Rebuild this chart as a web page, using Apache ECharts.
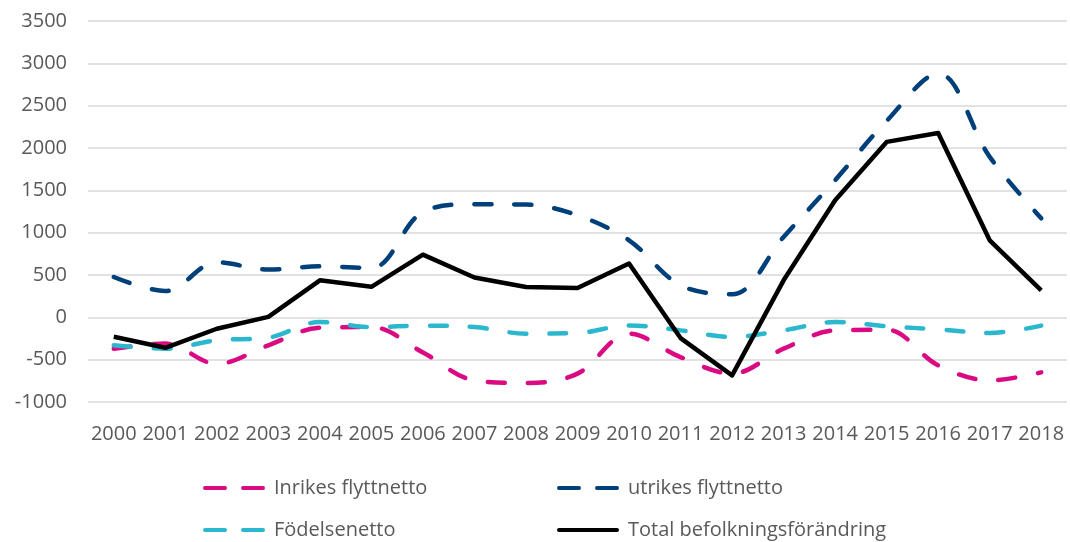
<!DOCTYPE html>
<html>
<head>
<meta charset="utf-8">
<script src="https://cdn.jsdelivr.net/npm/echarts@6/dist/echarts.min.js"></script>
<style>
  html, body { margin: 0; padding: 0; background: #fff; }
  #chart { width: 1070px; height: 542px; }
</style>
</head>
<body>
<div id="chart"></div>
<script>
const years = ["2000", "2001", "2002", "2003", "2004", "2005", "2006", "2007", "2008", "2009",
  "2010", "2011", "2012", "2013", "2014", "2015", "2016", "2017", "2018"];

const inrikes = [-370, -310, -550, -330, -122, -115, -415, -745, -776, -665,
  -193, -470, -665, -370, -154, -146, -567, -745, -650];
const utrikes = [476, 310, 650, 564, 603, 583, 1245, 1336, 1332, 1205,
  910, 378, 272, 950, 1620, 2320, 2880, 1895, 1170];
const fodelse = [-330, -370, -270, -240, -55, -115, -98, -115, -193, -185,
  -95, -154, -232, -154, -55, -106, -142, -185, -98];
const total = [-230, -360, -135, 5, 437, 360, 740, 470, 358, 347,
  635, -245, -685, 437, 1383, 2072, 2178, 910, 319];

const font = "'Open Sans', 'Liberation Sans', sans-serif";
const textColor = "#595959";

// legend icons: two rounded dashes, or one solid bar
const dashIcon = "path://M2,0H22A2,2 0 0 1 22,4H2A2,2 0 0 1 2,0Z M40,0H60A2,2 0 0 1 60,4H40A2,2 0 0 1 40,0Z";
const solidIcon = "path://M2,0H60A2,2 0 0 1 60,4H2A2,2 0 0 1 2,0Z";

const chart = echarts.init(document.getElementById("chart"));

function dashed(name, color, data) {
  return {
    name: name,
    type: "line",
    smooth: 0.35,
    symbol: "none",
    data: data,
    lineStyle: { color: color, width: 4.5, type: [17, 23], cap: "round" },
    itemStyle: { color: color }
  };
}

// one legend per entry so the two columns line up
function legendItem(name, icon, left, top) {
  return {
    left: left,
    top: top,
    itemWidth: 62,
    itemHeight: 5,
    data: [{ name: name, icon: icon }],
    textStyle: { fontFamily: font, fontSize: 20, color: textColor, padding: [0, 0, 0, 4] }
  };
}

chart.setOption({
  animation: false,
  grid: { left: 88, right: 3, top: 21, bottom: 140 },
  legend: [
    legendItem("Inrikes flyttnetto", dashIcon, 198, 473),
    legendItem("Födelsenetto", dashIcon, 198, 515),
    legendItem("utrikes flyttnetto", dashIcon, 552, 473),
    legendItem("Total befolkningsförändring", solidIcon, 552, 515)
  ],
  xAxis: {
    type: "category",
    data: years,
    axisLine: { show: false },
    axisTick: { show: false },
    axisLabel: { interval: 0, margin: 22, fontFamily: font, fontSize: 20, color: textColor }
  },
  yAxis: {
    type: "value",
    min: -1000,
    max: 3500,
    interval: 500,
    axisLabel: { margin: 21, fontFamily: font, fontSize: 20, color: textColor, formatter: v => String(v) },
    splitLine: { lineStyle: { color: "#d9d9d9", width: 1.5 } }
  },
  series: [
    dashed("Inrikes flyttnetto", "#DA0A82", inrikes),
    dashed("utrikes flyttnetto", "#00407A", utrikes),
    dashed("Födelsenetto", "#2BB8CE", fodelse),
    {
      name: "Total befolkningsförändring",
      type: "line",
      symbol: "none",
      data: total,
      lineStyle: { color: "#000", width: 4.5, join: "round" },
      itemStyle: { color: "#000" }
    }
  ]
});
</script>
</body>
</html>
